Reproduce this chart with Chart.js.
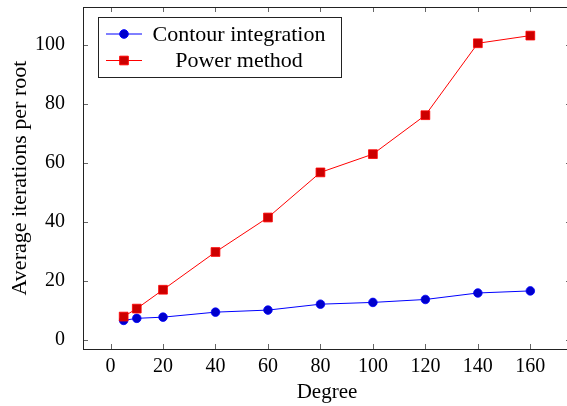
<!DOCTYPE html>
<html lang="en">

<head>
    <meta charset="UTF-8">
    <title>Average iterations per root</title>
    <script src="https://cdn.jsdelivr.net/npm/chart.js"></script>
    <style>
        html, body { margin: 0; padding: 0; overflow: hidden; background: #fff; }
        .warm { position: absolute; left: -1000px; top: 0; font-family: 'Liberation Serif'; font-size: 20px; }
    </style>
</head>

<body>

    <span class="warm">Degree 0123456789 Average iterations per root</span>
    <canvas id="myChart" width="578" height="406"></canvas>

    <script>
        // data
        const degrees = [5, 10, 20, 40, 60, 80, 100, 120, 140, 160];
        const contour = [6.5, 7.2, 7.6, 9.3, 10.0, 12.0, 12.6, 13.6, 15.8, 16.5];
        const power = [7.8, 10.5, 16.9, 29.7, 41.4, 56.7, 62.9, 76.1, 100.5, 103.1];

        const xTicks = [0, 20, 40, 60, 80, 100, 120, 140, 160];
        const yTicks = [0, 20, 40, 60, 80, 100];

        const serif = '"Liberation Serif", "DejaVu Serif", serif';

        // frame + inward ticks on all four sides, like pgfplots
        const framePlugin = {
            id: 'frame',
            afterDraw(chart) {
                const ctx = chart.ctx;
                const a = chart.chartArea;
                const xs = chart.scales.x, ys = chart.scales.y;
                const len = 5;
                ctx.save();
                ctx.strokeStyle = '#666';
                ctx.lineWidth = 1;
                ctx.beginPath();
                xTicks.forEach(v => {
                    const px = Math.round(xs.getPixelForValue(v)) + 0.5;
                    ctx.moveTo(px, a.bottom); ctx.lineTo(px, a.bottom - len);
                    ctx.moveTo(px, a.top); ctx.lineTo(px, a.top + len);
                });
                yTicks.forEach(v => {
                    const py = Math.round(ys.getPixelForValue(v)) + 0.5;
                    ctx.moveTo(a.left, py); ctx.lineTo(a.left + len, py);
                    ctx.moveTo(a.right, py); ctx.lineTo(a.right - len, py);
                });
                ctx.stroke();
                ctx.strokeStyle = '#222';
                ctx.strokeRect(Math.round(a.left) + 0.5, Math.round(a.top) + 0.5,
                    Math.round(a.right - a.left), Math.round(a.bottom - a.top));
                ctx.restore();

                // legend box
                const box = { l: 98.5, t: 17.5, w: 243, h: 60 };
                ctx.save();
                ctx.fillStyle = '#fff';
                ctx.fillRect(box.l, box.t, box.w, box.h);
                ctx.strokeStyle = '#222';
                ctx.lineWidth = 1;
                ctx.strokeRect(box.l, box.t, box.w, box.h);
                ctx.font = '22px ' + serif;
                ctx.textAlign = 'center';
                ctx.textBaseline = 'middle';
                chart.data.datasets.forEach((ds, i) => {
                    const cy = 34 + i * 26.5;
                    ctx.strokeStyle = ds.borderColor;
                    ctx.lineWidth = 1;
                    ctx.beginPath();
                    ctx.moveTo(106, cy); ctx.lineTo(142, cy);
                    ctx.stroke();
                    ctx.fillStyle = ds.pointBackgroundColor;
                    ctx.beginPath();
                    if (ds.pointStyle === 'rect') {
                        ctx.rect(124 - 4.3, cy - 4.3, 8.6, 8.6);
                    } else {
                        ctx.arc(124, cy, 4.3, 0, Math.PI * 2);
                    }
                    ctx.fill();
                    ctx.stroke();
                    ctx.fillStyle = '#000';
                    ctx.fillText(ds.label, 239, cy + 1);
                });
                ctx.restore();
            }
        };

        function drawChart() {
            const ctx = document.getElementById('myChart');

            new Chart(ctx, {
                type: 'line',
                data: {
                    datasets: [
                        {
                            label: 'Contour integration',
                            data: degrees.map((d, i) => ({ x: d, y: contour[i] })),
                            borderColor: '#0000ff',
                            borderWidth: 1,
                            pointStyle: 'circle',
                            pointRadius: 4.3,
                            pointBackgroundColor: '#0000cc',
                            pointBorderColor: '#0000ff',
                            pointBorderWidth: 0.8,
                            order: 2
                        },
                        {
                            label: 'Power method',
                            data: degrees.map((d, i) => ({ x: d, y: power[i] })),
                            borderColor: '#ff0000',
                            borderWidth: 1,
                            pointStyle: 'rect',
                            pointRadius: 6.2,
                            pointBackgroundColor: '#cc0000',
                            pointBorderColor: '#ff0000',
                            pointBorderWidth: 0.8,
                            order: 1
                        }
                    ]
                },
                options: {
                    responsive: false,
                    animation: false,
                    devicePixelRatio: 1,
                    layout: { padding: { top: 6, right: 4, left: 0, bottom: 0 } },
                    plugins: {
                        legend: { display: false },
                        tooltip: { enabled: false }
                    },
                    scales: {
                        x: {
                            type: 'linear',
                            min: -10.5,
                            max: 175.5,
                            afterBuildTicks: (s) => { s.ticks = xTicks.map(v => ({ value: v })); },
                            afterFit: (s) => {
                                s.height = 57;
                                s.paddingLeft = 0; s.paddingRight = 0;
                            },
                            grid: { display: false },
                            border: { display: false },
                            ticks: {
                                color: '#000',
                                font: { family: serif, size: 20 },
                                padding: -2,
                                maxRotation: 0,
                                autoSkip: false
                            },
                            title: {
                                display: true,
                                text: 'Degree',
                                color: '#000',
                                font: { family: serif, size: 21 },
                                padding: { top: 0, bottom: 1 }
                            }
                        },
                        y: {
                            type: 'linear',
                            min: -3.2,
                            max: 112.8,
                            afterBuildTicks: (s) => { s.ticks = yTicks.map(v => ({ value: v })); },
                            afterFit: (s) => {
                                s.width = 83;
                                s.paddingTop = 0; s.paddingBottom = 0;
                            },
                            grid: { display: false },
                            border: { display: false },
                            ticks: {
                                color: '#000',
                                font: { family: serif, size: 20 },
                                padding: 10
                            },
                            title: {
                                display: true,
                                text: 'Average iterations per root',
                                color: '#000',
                                font: { family: serif, size: 22 },
                                padding: { top: 7, bottom: 0 }
                            }
                        }
                    }
                },
                plugins: [framePlugin]
            });
        }

        document.fonts.load('20px "Liberation Serif"').then(drawChart, drawChart);
    </script>
</body>

</html>
